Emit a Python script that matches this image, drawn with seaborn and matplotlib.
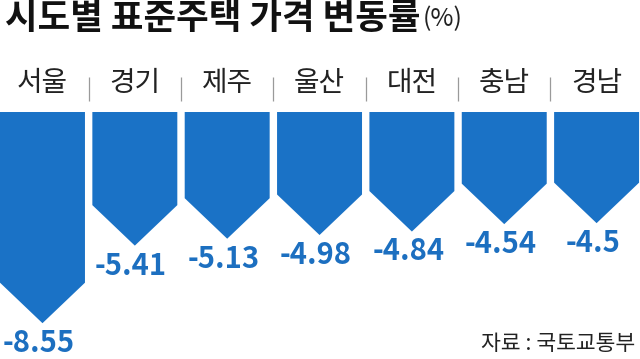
import matplotlib
matplotlib.use("Agg")
import matplotlib.pyplot as plt
from matplotlib.patches import Polygon
import seaborn as sns
import pandas as pd

# 데이터
regions = ["서울", "경기", "제주", "울산", "대전", "충남", "경남"]
changes = [-8.55, -5.41, -5.13, -4.98, -4.84, -4.54, -4.5]
value_labels = ["-8.55", "-5.41", "-5.13", "-4.98", "-4.84", "-4.54", "-4.5"]

bar_blue = "#1a72c6"
text_blue = "#1c6fc0"

sns.set_theme(style="white")
plt.rcParams['font.family'] = ['Noto Sans CJK KR', 'DejaVu Sans']

df = pd.DataFrame({"region": regions, "change": changes})

fig = plt.figure(figsize=(6.4, 3.59), dpi=100)
ax = fig.add_axes([0, 0, 1, 0.688])

sns.barplot(data=df, x="region", y="change", color=bar_blue, width=0.92,
            saturation=1, ax=ax)

# 막대를 화살표 모양(아래로 뾰족한 오각형)으로 바꾸기
tip = 1.64
for p, v, lab in zip(list(ax.patches), changes, value_labels):
    x0, w, h = p.get_x(), p.get_width(), p.get_height()
    poly = Polygon([(x0, 0), (x0 + w, 0), (x0 + w, h + tip),
                    (x0 + w / 2, h), (x0, h + tip)],
                   closed=True, facecolor=bar_blue, edgecolor="none")
    p.remove()
    ax.add_patch(poly)
    ax.text(x0 + w / 2 - 0.04, h - 0.2, lab, ha="center", va="top",
            fontsize=21, fontweight="bold", color=text_blue)

ax.set_xlim(-0.46, 6.47)
ax.set_ylim(-10, 0)
ax.set_xlabel("")
ax.set_ylabel("")
ax.set_yticks([])
ax.xaxis.tick_top()
ax.tick_params(axis="x", length=0, pad=10, labelsize=20, labelcolor="#222222")
sns.despine(ax=ax, left=True, bottom=True, top=True, right=True)

# 지역 구분선
ax.vlines([i + 0.5 for i in range(len(regions) - 1)], 1.045, 1.14,
          transform=ax.get_xaxis_transform(), colors="#9a9a9a",
          linewidth=0.9, clip_on=False)

# 제목
title = fig.text(0.008, 0.997, "시도별 표준주택 가격 변동률", ha="left", va="top",
                 fontsize=25.5, fontweight="bold", color="#111111")
fig.canvas.draw()
bb = title.get_window_extent()
fig.text((bb.x1 + 2) / fig.bbox.width, bb.y0 / fig.bbox.height + 0.01, "(%)",
         ha="left", va="bottom", fontsize=18, color="#222222")

fig.text(0.993, 0.012, "자료 : 국토교통부", ha="right", va="bottom",
         fontsize=15.5, color="#222222")

fig.savefig("out.png", dpi=100)
